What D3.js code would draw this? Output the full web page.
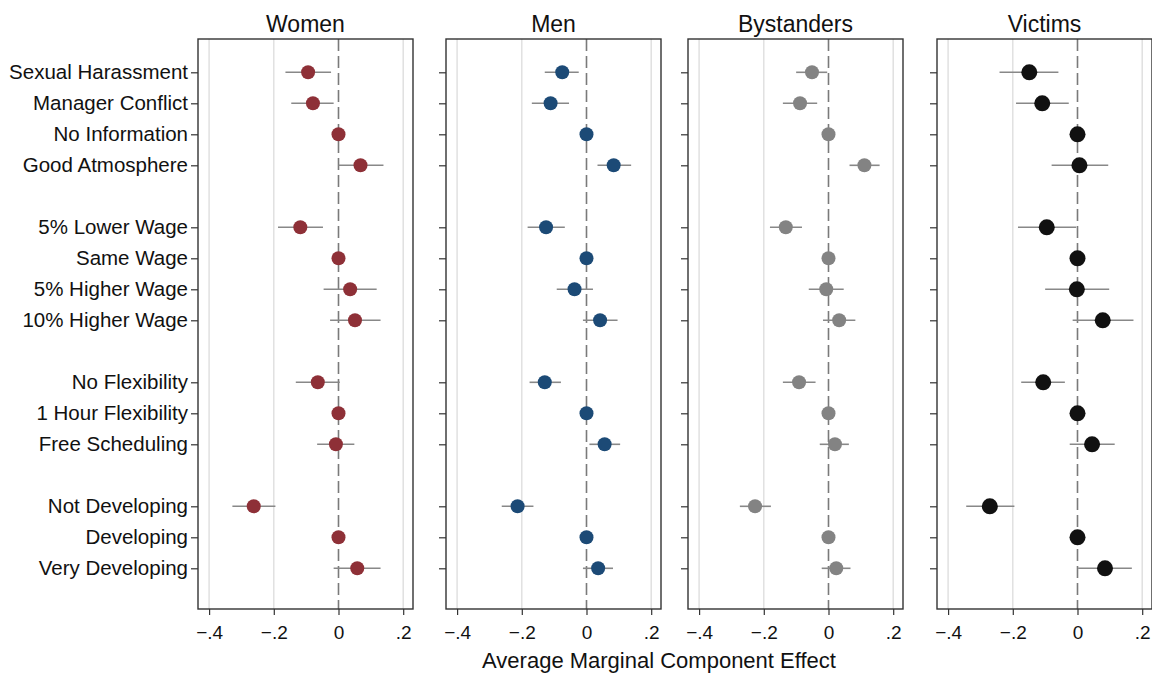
<!DOCTYPE html>
<html>
<head>
<meta charset="utf-8">
<script src="https://cdn.jsdelivr.net/npm/d3@7"></script>
<style>
  body { margin: 0; background: #fff; }
  text { font-family: "Liberation Sans", Arial, sans-serif; fill: #111; }
</style>
</head>
<body>
<svg id="chart" width="1152" height="673"></svg>
<script>
// attribute levels, by group
var groups = [
  ["Sexual Harassment", "Manager Conflict", "No Information", "Good Atmosphere"],
  ["5% Lower Wage", "Same Wage", "5% Higher Wage", "10% Higher Wage"],
  ["No Flexibility", "1 Hour Flexibility", "Free Scheduling"],
  ["Not Developing", "Developing", "Very Developing"]
];
var categories = groups.flat();
var panels = ["Women", "Men", "Bystanders", "Victims"];
var tickValues = [-0.4, -0.2, 0, 0.2];

// AMCE estimates and 95% CI, one array per panel
var womenEst = [-0.094, -0.079, 0, 0.068, -0.118, 0, 0.036, 0.051, -0.064, 0, -0.008, -0.262, 0, 0.058];
var womenLo  = [-0.164, -0.146, 0, 0.000, -0.187, 0, -0.046, -0.026, -0.132, 0, -0.066, -0.328, 0, -0.015];
var womenHi  = [-0.023, -0.015, 0, 0.139, -0.048, 0, 0.118, 0.130, 0.004, 0, 0.049, -0.195, 0, 0.130];

var menEst = [-0.075, -0.111, 0, 0.084, -0.125, 0, -0.037, 0.042, -0.129, 0, 0.056, -0.213, 0, 0.036];
var menLo  = [-0.129, -0.169, 0, 0.034, -0.182, 0, -0.092, -0.011, -0.176, 0, 0.009, -0.262, 0, -0.011];
var menHi  = [-0.024, -0.054, 0, 0.138, -0.067, 0, 0.020, 0.096, -0.079, 0, 0.104, -0.164, 0, 0.082];

var bystEst = [-0.051, -0.088, 0, 0.111, -0.132, 0, -0.007, 0.033, -0.091, 0, 0.020, -0.227, 0, 0.024];
var bystLo  = [-0.100, -0.141, 0, 0.065, -0.181, 0, -0.061, -0.017, -0.141, 0, -0.027, -0.274, 0, -0.021];
var bystHi  = [-0.004, -0.035, 0, 0.158, -0.082, 0, 0.047, 0.083, -0.040, 0, 0.063, -0.178, 0, 0.068];

var victEst = [-0.149, -0.109, 0, 0.006, -0.095, 0, -0.002, 0.078, -0.106, 0, 0.045, -0.271, 0, 0.085];
var victLo  = [-0.241, -0.190, 0, -0.080, -0.184, 0, -0.100, -0.015, -0.174, 0, -0.024, -0.344, 0, 0.002];
var victHi  = [-0.059, -0.027, 0, 0.095, -0.004, 0, 0.098, 0.173, -0.039, 0, 0.115, -0.195, 0, 0.168];

var series = [
  {est: womenEst, lo: womenLo, hi: womenHi, color: "#8e3037", r: 7},
  {est: menEst, lo: menLo, hi: menHi, color: "#1c4a76", r: 7},
  {est: bystEst, lo: bystLo, hi: bystHi, color: "#838383", r: 7},
  {est: victEst, lo: victLo, hi: victHi, color: "#111111", r: 8}
];

var svg = d3.select("#chart");
var panelLeft = [198, 446, 688, 937];
var panelW = 215, plotTop = 39, plotBottom = 609;

// slots with a blank spacer between groups
var slots = [];
groups.forEach(function(g, i) {
  if (i > 0) slots.push("gap" + i);
  g.forEach(function(c) { slots.push(c); });
});
var y = d3.scalePoint().domain(slots).range([72.3, 568.3]);

panels.forEach(function(name, p) {
  var x = d3.scaleLinear().domain([-0.4343, 0.2303]).range([0, panelW]);
  var s = series[p];
  var g = svg.append("g").attr("transform", "translate(" + panelLeft[p] + ",0)");

  // vertical gridlines
  g.selectAll(".grid").data(tickValues.filter(function(d) { return d !== 0; }))
    .enter().append("line")
    .attr("x1", function(d) { return x(d); }).attr("x2", function(d) { return x(d); })
    .attr("y1", plotTop).attr("y2", plotBottom)
    .attr("stroke", "#dedede").attr("stroke-width", 1.4);

  // zero reference
  g.append("line")
    .attr("x1", x(0)).attr("x2", x(0)).attr("y1", plotTop).attr("y2", plotBottom)
    .attr("stroke", "#7a7a7a").attr("stroke-width", 1.6)
    .attr("stroke-dasharray", "12,5");

  // x axis
  var xa = g.append("g").attr("transform", "translate(0," + plotBottom + ")")
    .call(d3.axisBottom(x).tickValues(tickValues).tickSize(6).tickPadding(11)
      .tickFormat(function(d) { return d === 0 ? "0" : d3.format(".1f")(d).replace("0.", "."); }));
  xa.select(".domain").remove();
  xa.selectAll("line").attr("stroke", "#333").attr("stroke-width", 1.2);
  xa.selectAll("text").attr("font-size", "19px").attr("font-family", "Liberation Sans, Arial, sans-serif").attr("fill", "#111");

  // y axis
  var ya = g.append("g")
    .call(d3.axisLeft(y).tickValues(categories).tickSize(7).tickPadding(3)
      .tickFormat(function(d) { return p === 0 ? d : ""; }));
  ya.select(".domain").remove();
  ya.selectAll("line").attr("stroke", "#333").attr("stroke-width", 1.2);
  ya.selectAll("text").attr("font-size", "20.5px").attr("font-family", "Liberation Sans, Arial, sans-serif").attr("fill", "#111");

  // frame
  g.append("rect")
    .attr("x", 0).attr("y", plotTop).attr("width", panelW).attr("height", plotBottom - plotTop)
    .attr("fill", "none").attr("stroke", "#333").attr("stroke-width", 1.4);

  // confidence intervals
  g.selectAll(".ci").data(categories).enter().append("line")
    .attr("x1", function(d, i) { return x(s.lo[i]); })
    .attr("x2", function(d, i) { return x(s.hi[i]); })
    .attr("y1", function(d) { return y(d); })
    .attr("y2", function(d) { return y(d); })
    .attr("stroke", "#888").attr("stroke-width", 1.6);

  // point estimates
  g.selectAll(".pt").data(categories).enter().append("circle")
    .attr("cx", function(d, i) { return x(s.est[i]); })
    .attr("cy", function(d) { return y(d); })
    .attr("r", s.r)
    .attr("fill", s.color);

  // panel title
  g.append("text")
    .attr("x", panelW / 2).attr("y", 32)
    .attr("text-anchor", "middle")
    .attr("font-size", "23px")
    .text(name);
});

svg.append("text")
  .attr("x", 659).attr("y", 668)
  .attr("text-anchor", "middle")
  .attr("font-size", "22px")
  .text("Average Marginal Component Effect");
</script>
</body>
</html>
